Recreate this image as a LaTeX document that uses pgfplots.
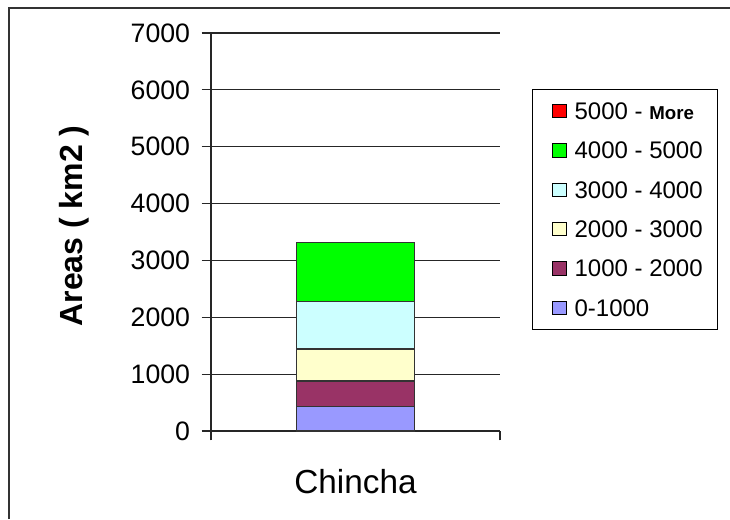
\documentclass[border=0pt]{standalone}
\usepackage{fontspec}
\setmainfont{Liberation Sans}
\usepackage{pgfplots}
\pgfplotsset{compat=1.18}

\definecolor{c1}{HTML}{9999FF}
\definecolor{c2}{HTML}{993366}
\definecolor{c3}{HTML}{FFFFCC}
\definecolor{c4}{HTML}{CCFFFF}
\definecolor{c5}{HTML}{00FF00}
\definecolor{c6}{HTML}{FF0000}
\definecolor{edge}{HTML}{333333}

\pgfplotsset{sqlegend/.style={legend image code/.code={%
  \path[draw=none,fill=none] (0pt,0pt) -- (4pt,0pt);
  \draw[##1,draw=black,line width=0.75pt] (4pt,-5pt) rectangle (14.5pt,5pt);}}}

\begin{document}
\begin{tikzpicture}
\useasboundingbox (0pt,0pt) rectangle (547.5pt,-389.25pt);
% outer chart frame (clipped at right and bottom)
\draw[line width=1.5pt,black!80] (6.75pt,-389.25pt) -- (6.75pt,-6pt) -- (547.5pt,-6pt);
\begin{axis}[
  at={(158.25pt,-323.25pt)}, anchor=south west,
  scale only axis, width=216.75pt, height=298.5pt,
  ybar stacked, bar width=1,
  every axis plot post/.append style={sqlegend},
  xmin=-1.225, xmax=1.225, ymin=0, ymax=7000,
  axis x line*=bottom, axis y line*=left,
  axis line style={line width=0.9pt, black!85},
  xtick={-1.225,1.225}, xticklabels={},
  ytick={0,1000,...,7000},
  tick style={line width=0.9pt, black!85},
  major tick length=7pt, tick align=outside,
  ymajorgrids, grid style={line width=0.9pt, black!85},
  tick label style={font=\fontsize{20}{24}\selectfont},
  yticklabel style={anchor=east, inner sep=0pt, xshift=-8.5pt},
  /pgf/number format/assume math mode=true,
  /pgf/number format/1000 sep={},
  ylabel={\bfseries Areas ( km2 )},
  ylabel style={font=\fontsize{24}{28}\selectfont, at={(axis description cs:-0.443,0.515)}, anchor=base},
  xlabel={Chincha},
  xlabel style={font=\fontsize{25}{30}\selectfont, at={(axis description cs:0.5,0)}, anchor=base, yshift=-46.5pt},
  legend cell align=left, reverse legend,
  legend style={at={(1.109,0.86)}, anchor=north west, draw=black, line width=0.9pt,
    font=\fontsize{18}{21}\selectfont, inner xsep=11pt, inner ysep=10pt, row sep=17pt,
    nodes={inner sep=0pt, text height=12.5pt, text depth=0pt},
    /tikz/every odd column/.append style={column sep=6pt}},
]
\addplot[fill=c1, draw=edge, line width=1.1pt] coordinates {(0,430)};
\addlegendentry{0-1000}
\addplot[fill=c2, draw=edge, line width=1.1pt] coordinates {(0,450)};
\addlegendentry{1000 - 2000}
\addplot[fill=c3, draw=edge, line width=1.1pt] coordinates {(0,560)};
\addlegendentry{2000 - 3000}
\addplot[fill=c4, draw=edge, line width=1.1pt] coordinates {(0,835)};
\addlegendentry{3000 - 4000}
\addplot[fill=c5, draw=edge, line width=1.1pt] coordinates {(0,1040)};
\addlegendentry{4000 - 5000}
\addplot[fill=c6, draw=none] coordinates {(0,0)};
\addlegendentry{5000 - {\fontsize{14}{16}\selectfont\bfseries More}}
\end{axis}
\end{tikzpicture}
\end{document}
